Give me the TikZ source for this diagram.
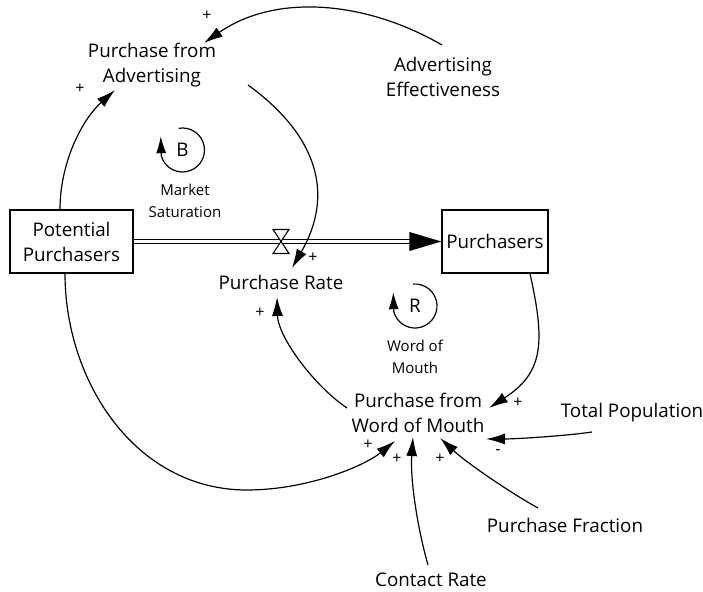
\documentclass[tikz,border=0pt]{standalone}
\usepackage{fontspec}
\setmainfont{Open Sans}
\usetikzlibrary{arrows.meta,calc}
\begin{document}
\begin{tikzpicture}[x=1pt,y=1pt,
  lbl/.style={align=center, inner sep=0pt, font=\fontsize{18.8}{25}\selectfont},
  small/.style={align=center, inner sep=0pt, font=\fontsize{15}{22}\selectfont},
  pol/.style={inner sep=0pt, font=\fontsize{16}{17}\selectfont},
  stock/.style={draw, line width=1.2pt, minimum height=63pt, inner sep=0pt, align=center, font=\fontsize{18.8}{25}\selectfont},
  link/.style={line width=1.2pt, -{Latex[length=19pt,width=11pt]}},
  loopline/.style={line width=1.2pt, -{Latex[length=17pt,width=10pt]}},
]
\useasboundingbox (0,0) rectangle (703,591);

% stocks
\node[stock, minimum width=123pt] (PP) at (71.5,349.5) {Potential\\Purchasers};
\node[stock, minimum width=106pt] (P) at (495,349.5) {Purchasers};
\coordinate (V) at (281,349.5);

% variables
\node[lbl] (PR) at (281,309) {Purchase Rate};
\node[lbl] (PfA) at (152,526) {Purchase from\\Advertising};
\node[lbl] (AE) at (443,514) {Advertising\\Effectiveness};
\node[lbl] (PW) at (418,178) {Purchase from\\Word of Mouth};
\node[lbl] (TP) at (632,178) {Total Population};
\node[lbl] (PF) at (565,66) {Purchase Fraction};
\node[lbl] (CR) at (431,11) {Contact Rate};

% loops
\node[small] (MS) at (185,390) {Market\\Saturation};
\node[small] (WM) at (415,234) {Word of\\Mouth};
\coordinate (LB) at (182.5,441);
\coordinate (LR) at (415,285);
\node[lbl] (Bt) at (LB) {B};
\node[lbl] (Rt) at (LR) {R};
\draw[loopline] ($(LB)+(100:22)$) arc[start angle=100, end angle=-165, radius=22] -- ++(-0.5,19.5);
\draw[loopline] ($(LR)+(95:22)$) arc[start angle=95, end angle=-165, radius=22] -- ++(-0.5,19.5);

% flow
\draw[line width=1.1pt, double distance=3.5pt] (PP.east) -- ($(P.west)+(-30,0)$);
\fill ($(P.west)+(-32,9.5)$) -- (P.west) -- ($(P.west)+(-32,-9.5)$) -- cycle;
\draw[line width=1.1pt, fill=white] ($(V)+(-8,12)$) -- ($(V)+(8,12)$) -- ($(V)+(-8,-12)$) -- ($(V)+(8,-12)$) -- cycle;

% links
\draw[link] ($(AE.center)+(-1,32)$) .. controls (366,590) and (276,598) .. ($(PfA.center)+(52,22)$);
\node[pol] at (207,575) {+};

\draw[link] ($(PP.north)+(-11.5,0)$) .. controls (60,428) and (81.6,470.9) .. ($(PfA.center)+(-37,-25)$);
\node[pol] at (80,502) {+};

\draw[link] ($(PfA.center)+(96,-20)$) .. controls (312.7,459) and (337,401) .. ($(PR.center)+(11,14)$);
\node[pol] at (313,333) {+};

\draw[link] ($(P.south)+(35,0)$) .. controls (545.4,248) and (543.5,218.4) .. ($(PW.center)+(71,5)$);
\node[pol] at (518,188) {+};

\draw[link] ($(PW.center)+(-71,5)$) .. controls (313.8,205.4) and (278,254) .. ($(PR.center)+(-4,-15)$);
\node[pol] at (260,278) {+};

\draw[link] ($(PP.south)+(-6.5,0)$) .. controls (65,210) and (135,101) .. (247,101) .. controls (307,101) and (364,124.8) .. ($(PW.center)+(-23,-28)$);
\node[pol] at (368,146) {+};

\draw[link] ($(TP.center)+(-40,-19)$) .. controls (565,155) and (515,152) .. ($(PW.center)+(68,-26)$);
\node[pol] at (498,139) {-};

\draw[link] ($(PF.center)+(-27,17)$) .. controls (507.4,100) and (465.6,129.1) .. ($(PW.center)+(22,-25)$);
\node[pol] at (440,132) {+};

\draw[link] ($(CR.center)+(-3,15)$) .. controls (418,61) and (410,110) .. ($(PW.center)+(-5,-24)$);
\node[pol] at (397,132) {+};
\end{tikzpicture}
\end{document}
